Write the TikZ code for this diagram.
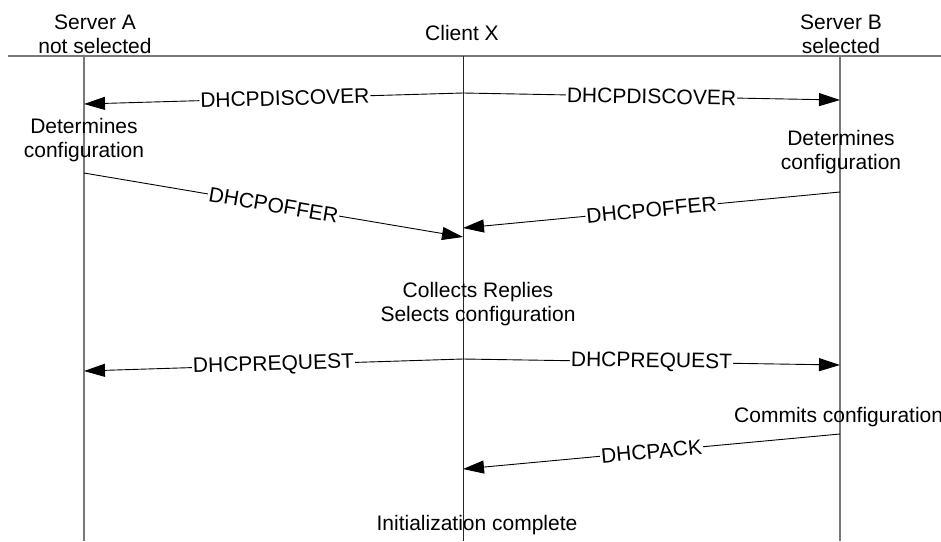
\documentclass[tikz,border=0pt]{standalone}
\usepackage{fontspec}
\setmainfont{Liberation Sans}
\usetikzlibrary{arrows.meta}
\definecolor{lifegray}{RGB}{120,120,120}
\begin{document}
\begin{tikzpicture}[x=1pt,y=-1pt,
  life/.style={draw=lifegray,line width=1.1pt},
  clife/.style={draw=black!85,line width=1pt},
  msg/.style={draw=black,line width=0.9pt,-{Triangle[length=21pt,width=13pt]}},
  lbl/.style={fill=white,inner sep=1pt,sloped,font=\fontsize{21}{25}\selectfont},
  txt/.style={align=center,inner sep=0pt,font=\fontsize{21}{24}\selectfont}]
\useasboundingbox (0,0) rectangle (941,541);
% header line and lifelines
\coordinate (hl) at (8,56);
\coordinate (hr) at (941,56);
\coordinate (At) at (84,56);
\coordinate (Ab) at (84,541);
\coordinate (Xt) at (463,56);
\coordinate (Xb) at (463,541);
\coordinate (Bt) at (840,56);
\coordinate (Bb) at (840,541);
\draw[life] (hl) -- (hr);
\draw[life] (At) -- (Ab);
\draw[clife] (Xt) -- (Xb);
\draw[life] (Bt) -- (Bb);
% titles
\node[txt] (tA) at (95,34) {Server A\\not selected};
\node[txt] (tX) at (462,33) {Client X};
\node[txt] (tB) at (841,34) {Server B\\selected};
% notes
\node[txt] (dA) at (84,140) {Determines\\configuration};
\node[txt] (dB) at (841,152) {Determines\\configuration};
\node[txt] (cX) at (478,304) {Collects Replies\\Selects configuration};
\node[txt,anchor=west] (cB) at (734,417) {Commits configuration};
\node[txt] (iX) at (477,525) {Initialization complete};
% message endpoints
\coordinate (X1) at (463,93);
\coordinate (A1) at (84,104);
\coordinate (B1) at (840,100);
\coordinate (A2) at (84,173);
\coordinate (X2) at (463,237);
\coordinate (B2) at (840,192);
\coordinate (X3) at (463,228);
\coordinate (X4) at (463,359);
\coordinate (A4) at (84,371);
\coordinate (B4) at (840,365);
\coordinate (B5) at (840,434);
\coordinate (X5) at (463,469);
% messages
\draw[msg] (X1) -- node[lbl,pos=0.47] (m1) {DHCPDISCOVER} (A1);
\draw[msg] (X1) -- node[lbl,pos=0.5] (m2) {DHCPDISCOVER} (B1);
\draw[msg] (A2) -- node[lbl,pos=0.5] (m3) {DHCPOFFER} (X2);
\draw[msg] (B2) -- node[lbl,pos=0.5] (m4) {DHCPOFFER} (X3);
\draw[msg] (X4) -- node[lbl,pos=0.5] (m5) {DHCPREQUEST} (A4);
\draw[msg] (X4) -- node[lbl,pos=0.5] (m6) {DHCPREQUEST} (B4);
\draw[msg] (B5) -- node[lbl,pos=0.5] (m7) {DHCPACK} (X5);
\end{tikzpicture}
\end{document}
